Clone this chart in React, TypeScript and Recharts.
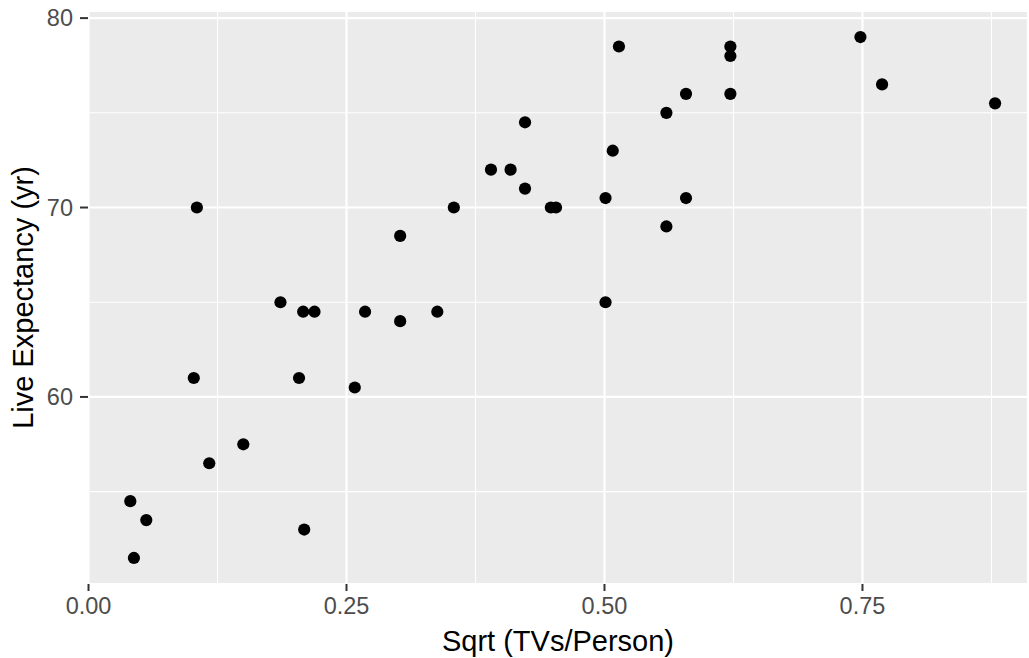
import React from 'react';
import { ScatterChart, Scatter, XAxis, YAxis, CartesianGrid, ReferenceLine, Label } from 'recharts';

// sqrt(TVs per person) vs life expectancy
const sqrtTvs = [
  0.0405, 0.044, 0.056, 0.105, 0.102, 0.117, 0.15, 0.186, 0.204, 0.208,
  0.219, 0.209, 0.258, 0.268, 0.302, 0.302, 0.338, 0.354, 0.39, 0.409,
  0.423, 0.423, 0.448, 0.453, 0.501, 0.501, 0.508, 0.514, 0.56, 0.56,
  0.579, 0.579, 0.622, 0.622, 0.622, 0.748, 0.769, 0.8785,
];
const lifeExp = [
  54.5, 51.5, 53.5, 70, 61, 56.5, 57.5, 65, 61, 64.5,
  64.5, 53, 60.5, 64.5, 68.5, 64, 64.5, 70, 72, 72,
  74.5, 71, 70, 70, 70.5, 65, 73, 78.5, 75, 69,
  76, 70.5, 78.5, 78, 76, 79, 76.5, 75.5,
];

const xTicks = [0, 0.25, 0.5, 0.75];
const xMinor = [0.125, 0.375, 0.625, 0.875];
const yTicks = [60, 70, 80];
const yMinor = [55, 65, 75];

const points = sqrtTvs.map((x, i) => ({ x, y: lifeExp[i] }));

const FONT = '"Liberation Sans", Arial, sans-serif';
const tickStyle = { fill: '#4D4D4D', fontSize: 23.5, fontFamily: FONT };

const Dot = (props: any) => <circle cx={props.cx} cy={props.cy} r={6.1} fill="#000000" />;

const xTitle = (props: any) => {
  const vb = props.viewBox || { x: 88, y: 584, width: 940 };
  return (
    <text x={vb.x + vb.width / 2} y={vb.y + 67} textAnchor="middle" fill="#000" fontSize={29} fontFamily={FONT}>
      Sqrt (TVs/Person)
    </text>
  );
};

const yTitle = (props: any) => {
  const vb = props.viewBox || { x: 0, y: 11, height: 573 };
  const cy = vb.y + vb.height / 2;
  return (
    <text x={33} y={cy} transform={`rotate(-90, 33, ${cy})`} textAnchor="middle" fill="#000" fontSize={29} fontFamily={FONT}>
      Live Expectancy (yr)
    </text>
  );
};

export default function App() {
  return (
    <div style={{ position: 'absolute', left: 0, top: 0, width: 1029, height: 658, background: '#fff' }}>
      <ScatterChart width={1029} height={658} margin={{ top: 11, right: 1, bottom: 0, left: 0 }}>
        <CartesianGrid fill="#EBEBEB" stroke="#FFFFFF" strokeWidth={2.2} />
        {xMinor.map((v) => (
          <ReferenceLine key={'xm' + v} x={v} stroke="#FFFFFF" strokeWidth={1.1} />
        ))}
        {yMinor.map((v) => (
          <ReferenceLine key={'ym' + v} y={v} stroke="#FFFFFF" strokeWidth={1.1} />
        ))}
        <XAxis
          type="number"
          dataKey="x"
          domain={[-0.0005, 0.9104]}
          allowDataOverflow
          ticks={xTicks}
          tickFormatter={(v: number) => v.toFixed(2)}
          height={74}
          axisLine={false}
          tickLine={{ stroke: '#333333', strokeWidth: 2 }}
          tickSize={7}
          tickMargin={6}
          tick={tickStyle}
        >
          <Label content={xTitle} />
        </XAxis>
        <YAxis
          type="number"
          dataKey="y"
          domain={[50.125, 80.375]}
          allowDataOverflow
          ticks={yTicks}
          width={88}
          axisLine={false}
          tickLine={{ stroke: '#333333', strokeWidth: 2 }}
          tickSize={8}
          tickMargin={7}
          tick={tickStyle}
        >
          <Label content={yTitle} />
        </YAxis>
        <Scatter data={points} shape={Dot} isAnimationActive={false} />
      </ScatterChart>
    </div>
  );
}
